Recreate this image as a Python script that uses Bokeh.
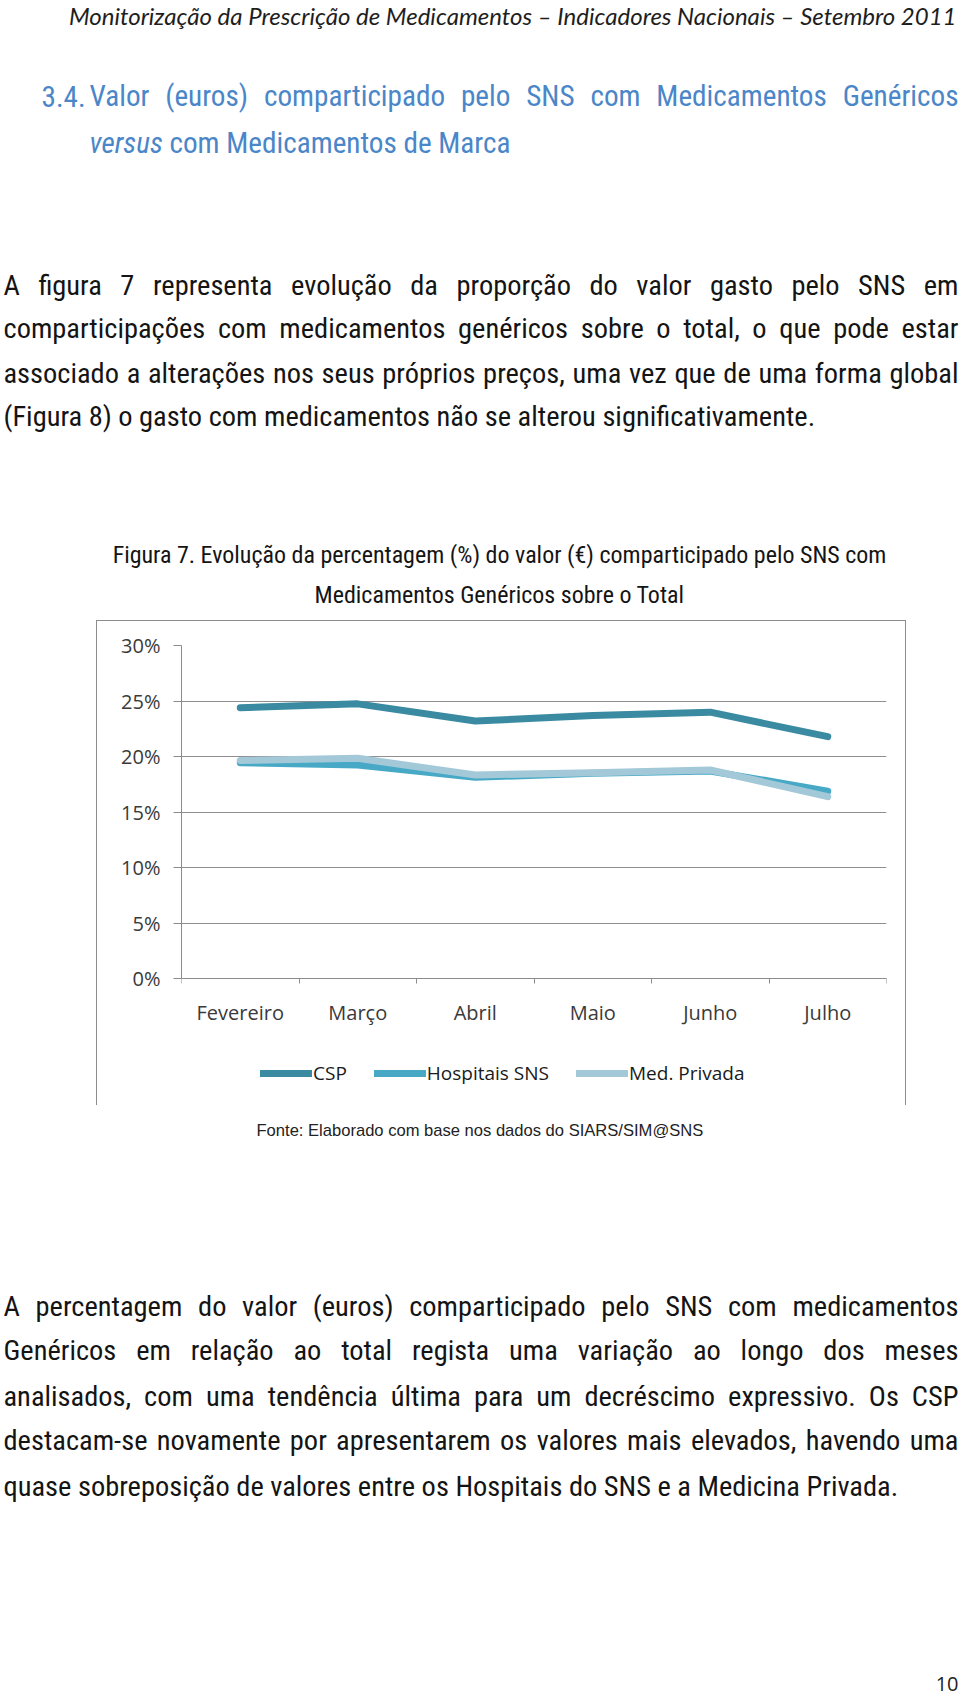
import os, glob, subprocess
from bokeh.plotting import figure
from bokeh.models import (ColumnDataSource, Range1d, LinearAxis, Spacer,
                          FixedTicker, PrintfTickFormatter, Legend, LegendItem)
from bokeh.layouts import column, row
from bokeh.core.properties import value
from bokeh.embed import file_html
from bokeh.resources import INLINE

# ---------------- data ----------------
months = ["Fevereiro", "Março", "Abril", "Maio", "Junho", "Julho"]
csp = [24.4, 24.75, 23.2, 23.7, 24.0, 21.8]
hospitais_sns = [19.45, 19.25, 18.15, 18.5, 18.7, 16.9]
med_privada = [19.65, 19.85, 18.35, 18.55, 18.8, 16.4]
series_names = ["CSP", "Hospitais SNS", "Med. Privada"]
series_colors = ["#3A8AA1", "#47A9C6", "#A3C9D8"]
y_ticks = [0, 5, 10, 15, 20, 25, 30]

header_text = "Monitorização da Prescrição de Medicamentos – Indicadores Nacionais – Setembro 2011"
heading_num = "3.4."
heading_line1 = "Valor (euros) comparticipado pelo SNS com Medicamentos Genéricos"
heading_it = "versus"
heading_line2 = "com Medicamentos de Marca"
para1 = [
    "A figura 7 representa evolução da proporção do valor gasto pelo SNS em",
    "comparticipações com medicamentos genéricos sobre o total, o que pode estar",
    "associado a alterações nos seus próprios preços, uma vez que de uma forma global",
    "(Figura 8) o gasto com medicamentos não se alterou significativamente.",
]
caption1 = "Figura 7. Evolução da percentagem (%) do valor (€) comparticipado pelo SNS com"
caption2 = "Medicamentos Genéricos sobre o Total"
source_note = "Fonte: Elaborado com base nos dados do SIARS/SIM@SNS"
para2 = [
    "A percentagem do valor (euros) comparticipado pelo SNS com medicamentos",
    "Genéricos em relação ao total regista uma variação ao longo dos meses",
    "analisados, com uma tendência última para um decréscimo expressivo. Os CSP",
    "destacam-se novamente por apresentarem os valores mais elevados, havendo uma",
    "quase sobreposição de valores entre os Hospitais do SNS e a Medicina Privada.",
]
page_no = "10"

# ---------------- fonts & measuring ----------------
_ALL = None


def glob_find(family, style):
    global _ALL
    if _ALL is None:
        _ALL = []
        for d in ["/usr/share/fonts", "/usr/local/share/fonts", os.path.expanduser("~/.fonts"),
                  os.path.expanduser("~/.local/share/fonts")]:
            _ALL += glob.glob(os.path.join(d, "**", "*.[ot]tf"), recursive=True)
    key = family.replace(" ", "").lower()
    st = style.lower()
    for f in _ALL:
        if os.path.basename(f).lower().startswith(key + "-" + st + "."):
            return f
    for f in _ALL:
        b = os.path.basename(f).lower()
        if st == "regular" and (b.startswith(key + "[") or b == key + ".ttf"):
            return f
        if st == "italic" and b.startswith(key + "-italic"):
            return f
    return None


def find_font(family, style="Regular"):
    try:
        r = subprocess.run(["fc-match", "-f", "%{family}\t%{file}", f"{family}:style={style}"],
                           capture_output=True, text=True, timeout=10)
        fam, path = r.stdout.split("\t", 1)
        fams = [f.strip().lower() for f in fam.split(",")]
        path = path.strip()
        if family.lower() in fams and os.path.exists(path):
            if style.lower() != "italic" or "italic" in os.path.basename(path).lower() or "oblique" in os.path.basename(path).lower():
                return path
    except Exception:
        pass
    return glob_find(family, style)


try:
    from PIL import ImageFont
except Exception:
    ImageFont = None
_fc = {}


def tw(text, path, size):
    if ImageFont is not None and path:
        try:
            if path not in _fc:
                _fc[path] = ImageFont.truetype(path, 100)
            return _fc[path].getlength(text) * size / 100.0
        except Exception:
            pass
    return len(text) * 0.47 * size


def fit(text, width, path):
    return width * 100.0 / tw(text, path, 100)


NARROW, NARROW_R = None, None
for fam in ["Liberation Sans Narrow", "Roboto Condensed", "Roboto", "Liberation Sans"]:
    pth = find_font(fam, "Regular")
    if pth:
        NARROW, NARROW_R = fam, pth
        break
if NARROW is None:
    NARROW = "Liberation Sans"
NARROW_I = find_font(NARROW, "Italic") or NARROW_R

HDR = "Lato"
HDR_I = find_font("Lato", "Italic")
if HDR_I is None:
    HDR = "Open Sans"
    HDR_I = find_font("Open Sans", "Italic")

ARIAL = "Liberation Sans"
ARIAL_R = find_font(ARIAL, "Regular")
CHART_FONT = "Open Sans"

# ---------------- page geometry (page pixels, origin top-left) ----------------
PAGE_W = 960
A_BOT = 620            # top of chart frame box
ROW_BOT = 1105         # bottom of chart frame box
C_BOT = 1700
BORDER = 1.5
FRAME_L, FRAME_R = 96, 906
PLOT_L, PLOT_R, PLOT_T, PLOT_B = 181, 883, 646, 978
INNER_BOT = 1100       # bottom of bokeh frame (holds axis labels + legend)
LEG_X, LEG_YC = 262, 1072
TXT_L, TXT_R = 3, 958
FRAME_GRAY = "#8C8C8C"
GRID_GRAY = "#8F8F8F"
TEXT_COL = "#141414"
BLUE = "#4A86C8"


def text_fig(x0, x1, y0, y1):
    p = figure(width=int(x1 - x0), height=int(y1 - y0), x_range=Range1d(x0, x1), y_range=Range1d(y1, y0),
               output_backend="svg", toolbar_location=None, x_axis_location=None, y_axis_location=None,
               min_border=0)
    p.grid.visible = False
    p.outline_line_color = None
    p.background_fill_color = "white"
    p.border_fill_color = "white"
    return p


def add_text(p, xs, ys, texts, font, size, color, align="left", style="normal"):
    src = ColumnDataSource(dict(x=xs, y=ys, text=texts))
    p.text(x="x", y="y", text="text", source=src, text_font=value(font),
           text_font_size=value(f"{size:.2f}px"), text_color=color, text_align=align,
           text_baseline="middle", text_font_style=style)


def justify(line, x0, x1, path, size):
    words = line.split(" ")
    ws = [tw(w, path, size) for w in words]
    gap = (x1 - x0 - sum(ws)) / max(1, len(words) - 1)
    xs, x = [], x0
    for w in ws:
        xs.append(x)
        x += w + gap
    return words, xs


def add_paragraph(p, lines, ys, size):
    X, Y, T = [], [], []
    for i, (line, y) in enumerate(zip(lines, ys)):
        if i < len(lines) - 1:
            words, xs = justify(line, TXT_L, TXT_R, NARROW_R, size)
            X += xs; Y += [y] * len(words); T += words
        else:
            X.append(TXT_L); Y.append(y); T.append(line)
    add_text(p, X, Y, T, NARROW, size, TEXT_COL)


# sizes
body_size = (fit(para1[-1], 819, NARROW_R) + fit(para2[-1], 904, NARROW_R)) / 2
for ln in para1[:-1] + para2[:-1]:
    body_size = min(body_size, fit(ln, (TXT_R - TXT_L) * 0.985, NARROW_R))

w_h2 = tw(heading_it + " ", NARROW_I, 100) + tw(heading_line2, NARROW_R, 100)
head_size = 421 * 100.0 / w_h2
head_size = min(head_size, fit(heading_line1, (958 - 89) * 0.985, NARROW_R))
hdr_size = fit(header_text, 888, HDR_I)
cap_size = fit(caption1, 774, NARROW_R)
src_size = fit(source_note, 447, ARIAL_R)

# ---------------- top text block ----------------
pa = text_fig(0, PAGE_W, 0, A_BOT)
add_text(pa, [956], [15], [header_text], HDR, hdr_size, "#1E1E1E", align="right", style="italic")
add_text(pa, [41], [95.5], [heading_num], NARROW, head_size, BLUE)
hw, hx = justify(heading_line1, 89, 958, NARROW_R, head_size)
add_text(pa, hx, [95.5] * len(hw), hw, NARROW, head_size, BLUE)
add_text(pa, [89], [142], [heading_it], NARROW, head_size, BLUE, style="italic")
add_text(pa, [89 + tw(heading_it + " ", NARROW_I, head_size)], [142], [heading_line2], NARROW, head_size, BLUE)
add_paragraph(pa, para1, [284.5, 328, 372.5, 416], body_size)
add_text(pa, [499, 499], [554, 594], [caption1, caption2], NARROW, cap_size, TEXT_COL, align="center")

# ---------------- chart ----------------
n = len(months)
x_pos = [i + 0.5 for i in range(n)]
y_max = y_ticks[-1]
y_min = -(INNER_BOT - PLOT_B) * y_max / (PLOT_B - PLOT_T)   # room under 0% for labels and legend
pb = figure(width=FRAME_R - FRAME_L, height=ROW_BOT - A_BOT, x_range=Range1d(0, n), y_range=Range1d(y_min, y_max),
            output_backend="svg", toolbar_location=None, x_axis_location=None, y_axis_location="left",
            min_border_left=int(round(PLOT_L - FRAME_L - BORDER)), min_border_right=int(FRAME_R - PLOT_R - BORDER),
            min_border_top=int(PLOT_T - A_BOT - 2), min_border_bottom=ROW_BOT - INNER_BOT)
pb.outline_line_color = None
pb.background_fill_color = "white"
pb.border_fill_color = "white"
pb.styles = {"border-top": f"{BORDER}px solid {FRAME_GRAY}", "border-left": f"{BORDER}px solid {FRAME_GRAY}",
             "border-right": f"{BORDER}px solid {FRAME_GRAY}", "box-sizing": "border-box"}

yax = pb.yaxis[0]
yax.ticker = FixedTicker(ticks=y_ticks)
yax.bounds = (0, y_max)
yax.formatter = PrintfTickFormatter(format="%d%%")
yax.major_tick_out = 8
yax.major_tick_in = 0
yax.minor_tick_line_color = None
yax.axis_line_color = FRAME_GRAY
yax.major_tick_line_color = FRAME_GRAY
yax.major_label_standoff = 13
yax.major_label_text_font = CHART_FONT
yax.major_label_text_font_size = "20px"
yax.major_label_text_color = "#3A3A3A"

pb.ygrid.ticker = FixedTicker(ticks=y_ticks)
pb.ygrid.grid_line_color = GRID_GRAY
pb.ygrid.grid_line_width = 1
pb.xgrid.visible = False

x_axis = LinearAxis(ticker=FixedTicker(ticks=x_pos, minor_ticks=list(range(n + 1))),
                    fixed_location=0,
                    major_label_overrides={x: m for x, m in zip(x_pos, months)},
                    major_tick_line_color=None, major_tick_out=0, major_tick_in=0,
                    minor_tick_line_color=FRAME_GRAY, minor_tick_out=5, minor_tick_in=0,
                    axis_line_color=FRAME_GRAY, major_label_standoff=15,
                    major_label_text_font=CHART_FONT, major_label_text_font_size="20px",
                    major_label_text_color="#3A3A3A")
pb.add_layout(x_axis, "below")

items = []
for name, vals, col in zip(series_names, [csp, hospitais_sns, med_privada], series_colors):
    r = pb.line(x=x_pos, y=vals, line_width=7, line_color=col, line_cap="round", line_join="round")
    items.append(LegendItem(label=name, renderers=[r]))

LEG_H = 26
legend = Legend(items=items, orientation="horizontal",
                location=(LEG_X - PLOT_L - 2, INNER_BOT - (LEG_YC + LEG_H / 2)),
                glyph_width=52, glyph_height=LEG_H, label_height=LEG_H, label_standoff=1, spacing=27,
                padding=0, margin=0, border_line_color=None, background_fill_alpha=0,
                label_text_font=CHART_FONT, label_text_font_size="19px", label_text_color="#1A1A1A")
pb.add_layout(legend)

chart_row = row(Spacer(width=FRAME_L, height=ROW_BOT - A_BOT), pb,
                Spacer(width=PAGE_W - FRAME_R, height=ROW_BOT - A_BOT))

# ---------------- bottom text block ----------------
pc = text_fig(0, PAGE_W, ROW_BOT, C_BOT)
add_text(pc, [256], [1129.5], [source_note], ARIAL, src_size, "#222222")
add_paragraph(pc, para2, [1305.5, 1350, 1395.5, 1440, 1485.5], body_size)
add_text(pc, [958], [1683], [page_no], CHART_FONT, 20, "#222222", align="right")

layout = column(pa, chart_row, pc)
open("out.html", "w").write(file_html(layout, INLINE))
